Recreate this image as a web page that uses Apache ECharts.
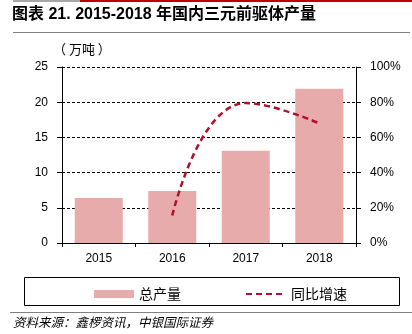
<!DOCTYPE html>
<html>
<head>
<meta charset="utf-8">
<script src="https://cdn.jsdelivr.net/npm/echarts@6/dist/echarts.min.js"></script>
<style>
  html, body { margin: 0; padding: 0; background: #fff; }
  #chart { width: 412px; height: 334px; }
</style>
</head>
<body>
<div id="chart"></div>
<script>
// Annual output (10k tonnes) and year-on-year growth (%)
const years = ['2015', '2016', '2017', '2018'];
const totalOutput = [6.4, 7.4, 13.1, 21.9];
const yoyGrowth = [null, 15.6, 79.5, 68.0];

const latin = 'Liberation Sans, Arial, sans-serif';
const cjk = 'Liberation Sans, "Noto Sans CJK SC", sans-serif';
const barColor = '#E8ABAB';
const lineColor = '#B0102A';

const chart = echarts.init(document.getElementById('chart'), null, { renderer: 'canvas' });

chart.setOption({
  animation: false,
  backgroundColor: '#fff',
  grid: { left: 62, right: 56, top: 67, bottom: 91 },
  graphic: [
    { type: 'rect', shape: { x: 13, y: 0, width: 67, height: 2 }, style: { fill: '#A6A6A6' } },
    { type: 'rect', shape: { x: 80, y: 0, width: 332, height: 2 }, style: { fill: '#C00000' } },
    { type: 'text', left: 12, top: 7,
      style: { text: '图表 21. 2015-2018 年国内三元前驱体产量', font: 'bold 16px ' + cjk, fill: '#000' } },
    { type: 'rect', shape: { x: 13, y: 32, width: 397, height: 1 }, style: { fill: '#808080' } },
    { type: 'text', left: 53, top: 43,
      style: { text: '（ 万吨 ）', font: '13px "Noto Sans CJK SC", sans-serif', fill: '#000' } },
    { type: 'rect', shape: { x: 24.5, y: 277.5, width: 375, height: 28 },
      style: { fill: 'none', stroke: '#000', lineWidth: 1 } },
    { type: 'rect', shape: { x: 10, y: 312, width: 402, height: 1 }, style: { fill: '#808080' } },
    { type: 'text', left: 13, top: 316,
      style: { text: '资料来源：鑫椤资讯，中银国际证券', font: 'italic 12.5px "Noto Sans CJK SC", sans-serif', fill: '#000' } }
  ],
  legend: {
    top: 282,
    left: 89,
    itemGap: 64,
    itemWidth: 40,
    itemHeight: 8,
    textStyle: { fontFamily: '"Noto Sans CJK SC", sans-serif', fontSize: 14, color: '#000' },
    data: [
      { name: '总产量', icon: 'rect' },
      { name: '同比增速', itemStyle: { color: 'rgba(0,0,0,0)', borderWidth: 0 } }
    ]
  },
  xAxis: {
    type: 'category',
    data: years,
    axisLine: { lineStyle: { color: '#000', width: 1 } },
    axisTick: { show: true, length: 4, lineStyle: { color: '#000' } },
    axisLabel: { color: '#000', fontFamily: latin, fontSize: 12, margin: 10 }
  },
  yAxis: [
    {
      type: 'value', min: 0, max: 25, interval: 5,
      axisLine: { show: true, lineStyle: { color: '#000' } },
      axisTick: { show: true, length: 5, lineStyle: { color: '#000' } },
      axisLabel: { color: '#000', fontFamily: latin, fontSize: 12, margin: 14 },
      splitLine: { show: true, lineStyle: { color: '#000', type: [3, 2], width: 1 } }
    },
    {
      type: 'value', min: 0, max: 100, interval: 20,
      axisLine: { show: true, lineStyle: { color: '#000' } },
      axisTick: { show: true, length: 5, lineStyle: { color: '#000' } },
      axisLabel: { color: '#000', fontFamily: latin, fontSize: 12, margin: 14, formatter: '{value}%' },
      splitLine: { show: false }
    }
  ],
  series: [
    {
      name: '总产量',
      type: 'bar',
      data: totalOutput,
      barWidth: 48,
      itemStyle: { color: barColor }
    },
    {
      name: '同比增速',
      type: 'line',
      yAxisIndex: 1,
      data: yoyGrowth,
      smooth: 0.5,
      smoothConstraint: false,
      symbol: 'none',
      lineStyle: { color: lineColor, width: 2.5, type: [6, 4] },
      itemStyle: { color: lineColor }
    }
  ]
});
</script>
</body>
</html>
